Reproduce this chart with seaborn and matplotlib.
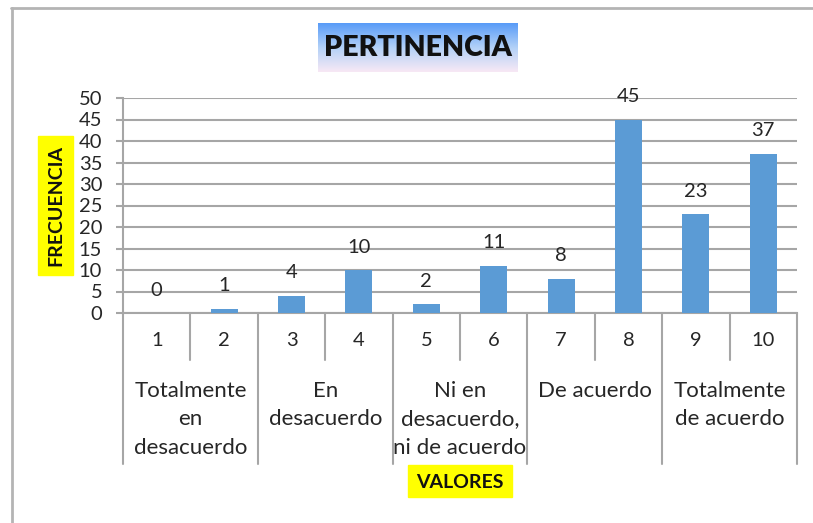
import numpy as np
import pandas as pd
import seaborn as sns
import matplotlib.pyplot as plt
from matplotlib.lines import Line2D
from matplotlib.patches import Rectangle

# ---- data ----
categories = ["1", "2", "3", "4", "5", "6", "7", "8", "9", "10"]
values = [0, 1, 4, 10, 2, 11, 8, 45, 23, 37]
groups = ["Totalmente\nen\ndesacuerdo", "En\ndesacuerdo",
          "Ni en\ndesacuerdo,\nni de acuerdo", "De acuerdo",
          "Totalmente\nde acuerdo"]
yticks = list(range(0, 55, 5))
title = "PERTINENCIA"
ylabel = "FRECUENCIA"
xlabel = "VALORES"

sns.set_theme(style="white")
plt.rcParams['font.family'] = ['Lato', 'DejaVu Sans']

W, H = 813, 523
fig = plt.figure(figsize=(W / 100, H / 100), dpi=100)
fig.patch.set_facecolor("white")


def fx(px):
    return px / W


def fy(py):
    return 1 - py / H


ax = fig.add_axes([fx(123), fy(313), fx(797) - fx(123), fy(98) - fy(313)])
df = pd.DataFrame({"valor": categories, "frecuencia": values})
sns.barplot(data=df, x="valor", y="frecuencia", order=categories,
            color="#5B9BD5", width=0.4, saturation=1, ax=ax, zorder=3,
            linewidth=0)

grid_c = "#a6a6a6"
txt_c = "#262626"
ax.set_xlim(-0.5, len(categories) - 0.5)
ax.set_ylim(0, 50)
ax.set_yticks(yticks)
ax.yaxis.grid(True, color=grid_c, lw=1.5)
ax.set_axisbelow(True)
for s in ["top", "right"]:
    ax.spines[s].set_visible(False)
for s in ["left", "bottom"]:
    ax.spines[s].set_color(grid_c)
    ax.spines[s].set_linewidth(1.5)
ax.tick_params(axis='y', left=True, length=5, width=1.5, color=grid_c,
               labelsize=14.5, pad=10, labelcolor=txt_c)
ax.tick_params(axis='x', bottom=False, labelbottom=False)
ax.set_xlabel("")
ax.set_ylabel("")

# data labels
for i, v in enumerate(values):
    ax.annotate(str(v), (i, v), xytext=(0, 16.5), textcoords='offset points',
                ha='center', va='center', fontsize=14.5, color=txt_c)

# category table below axis
trans = ax.get_xaxis_transform()
ah = 215.0
for k in range(len(categories) + 1):
    xpos = k - 0.5
    ylow = -151 / ah if k % 2 == 0 else -47 / ah
    ax.plot([xpos, xpos], [0, ylow], transform=trans, color=grid_c, lw=1.5,
            clip_on=False)
for i, c in enumerate(categories):
    ax.text(i, -28 / ah, c, transform=trans, ha='center', va='center',
            fontsize=14.5, color=txt_c)
for g, name in enumerate(groups):
    ax.text(2 * g + 0.5, -68 / ah, name, transform=trans, ha='center',
            va='top', fontsize=16, color=txt_c, linespacing=1.52,
            multialignment='center')

# y label with yellow box
fig.add_artist(Rectangle((fx(38), fy(275)), fx(73) - fx(38), fy(136) - fy(275),
                         transform=fig.transFigure, color="#ffff00", zorder=1))
fig.text(fx(56), fy(205), ylabel, rotation=90, ha='center', va='center',
         fontsize=14, fontweight='bold', color="#111111", zorder=2)

# x label with yellow box
fig.add_artist(Rectangle((fx(408), fy(497)), fx(512) - fx(408), fy(465) - fy(497),
                         transform=fig.transFigure, color="#ffff00", zorder=1))
fig.text(fx(460), fy(482), xlabel, ha='center', va='center',
         fontsize=14, fontweight='bold', color="#111111", zorder=2)

# title with gradient box
tax = fig.add_axes([fx(318), fy(72), fx(517) - fx(318), fy(23) - fy(72)])
top = np.array([0.35, 0.61, 0.97])
mid = np.array([0.70, 0.82, 0.97])
bot = np.array([0.97, 0.91, 0.96])
t = np.linspace(0, 1, 64)[:, None]
grad = np.where(t < 0.5, top + (mid - top) * (t / 0.5), mid + (bot - mid) * ((t - 0.5) / 0.5))
tax.imshow(grad[:, None, :], aspect='auto', extent=[0, 1, 0, 1])
tax.axis('off')
fig.text(fx(418), fy(48), title, ha='center', va='center', fontsize=20.5,
         fontweight='heavy', color="#111111")

# outer frame
fig.add_artist(Line2D([fx(11.5), fx(11.5)], [fy(8), 0], transform=fig.transFigure,
                      color="#b4b4b4", lw=2))
fig.add_artist(Line2D([fx(11), 1], [fy(8), fy(8)], transform=fig.transFigure,
                      color="#b4b4b4", lw=2))

fig.savefig("out.png", dpi=100)
